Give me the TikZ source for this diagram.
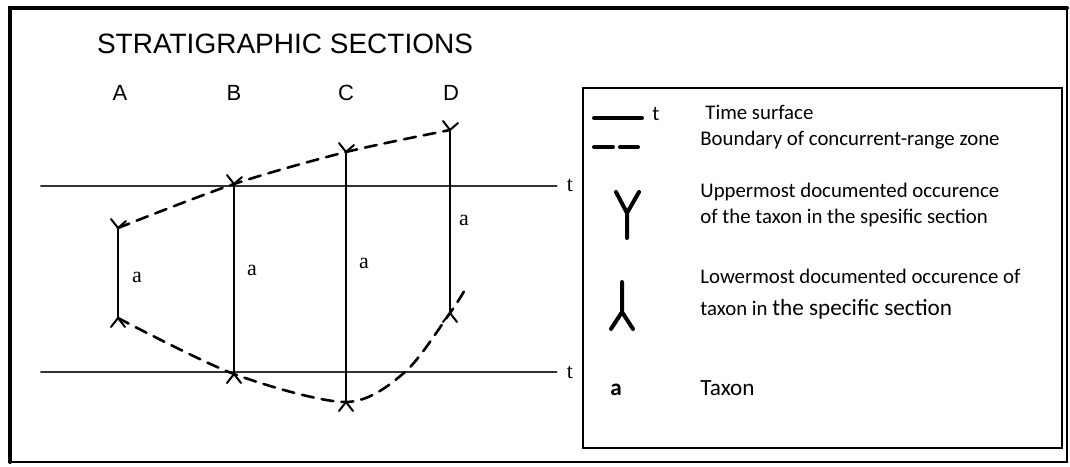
\documentclass[tikz,border=0pt]{standalone}
\usepackage{fontspec}
\setmainfont{Carlito}
\newfontfamily\helv{Liberation Sans}
\newfontfamily\timesf{Liberation Serif}
\usetikzlibrary{positioning}

\tikzset{
  section/.style={line width=1pt},
  timeline/.style={line width=1pt, black!80},
  zone/.style={line width=1.3pt, dash pattern=on 6pt off 4pt},
  taxon/.style={font=\timesf\fontsize{11}{11}\selectfont, inner sep=0pt},
  legtext/.style={anchor=base west, inner sep=0pt, font=\fontsize{10.4}{12}\selectfont},
  legsym/.style={line width=2pt},
  uptick/.pic={\draw[line width=1pt] (-7,-9) -- (0,0) -- (8,-7);},
  downtick/.pic={\draw[line width=1pt] (-7,9) -- (0,0) -- (7,9);}
}

\begin{document}
\begin{tikzpicture}[x=0.5pt, y=-0.5pt, line cap=round]
  \useasboundingbox (0,0) rectangle (1070,466);
  % frame
  \draw[line width=2pt] (10,462) -- (10,8) -- (1067,8);
  \draw[line width=1pt] (1067,8) -- (1067,462) -- (10,462);

  % title and section names
  \node[font=\helv\fontsize{14}{14}\selectfont, anchor=base] (title) at (285,53) {STRATIGRAPHIC SECTIONS};
  \foreach \s/\x in {A/120, B/234, C/346, D/451}
    \node[font=\helv\fontsize{11}{11}\selectfont, anchor=base] (lbl\s) at (\x,100) {\s};

  % time surfaces
  \coordinate (t1w) at (41,186);
  \coordinate (t2w) at (41,372);
  \node[taxon] (t1) at (570,185) {t};
  \node[taxon] (t2) at (570,372) {t};
  \draw[timeline] (t1w) -- ([xshift=-5pt]t1.west |- t1w);
  \draw[timeline] (t2w) -- ([xshift=-5pt]t2.west |- t2w);

  % sections
  \coordinate (Atop) at (118,228); \coordinate (Abot) at (118,318);
  \coordinate (Btop) at (234,184); \coordinate (Bbot) at (234,374);
  \coordinate (Ctop) at (346,152); \coordinate (Cbot) at (346,402);
  \coordinate (Dtop) at (450,130); \coordinate (Dbot) at (450,313);
  \foreach \s in {A,B,C,D} {
    \draw[section] (\s top) -- (\s bot);
    \pic at (\s top) {uptick};
    \pic at (\s bot) {downtick};
  }
  \node[taxon] (aA) at (137,277) {a};
  \node[taxon] (aB) at (252,270) {a};
  \node[taxon] (aC) at (364,263) {a};
  \node[taxon] (aD) at (464,220) {a};

  % concurrent-range zone
  \coordinate (Dend) at (466,288);
  \draw[zone] plot[smooth] coordinates {(Atop) (Btop) (Ctop) (Dtop)};
  \draw[zone] plot[smooth] coordinates {(Abot) (Bbot) (Cbot) (405,372) (Dbot) (Dend)};

  % legend
  \draw[line width=0.6pt] (583,88) rectangle (1062,448);
  \draw[legsym] (594,118) -- (642,118);
  \node[legtext] (lt) at (652,120) {t};
  \draw[legsym] (594,147) -- (613,147) (620,147) -- (638,147);
  \draw[legsym] (627,238) -- (627,213) -- (616,192) (627,213) -- (639,192);
  \draw[legsym] (622,282) -- (622,312) -- (611,329) (622,312) -- (633,329);
  \node[legtext, font=\bfseries\fontsize{11.6}{12}\selectfont] (la) at (610,395) {a};

  \node[legtext] (l1) at (705,119) {Time surface};
  \node[legtext] (l2) at (700,145) {Boundary of concurrent-range zone};
  \node[legtext] (l3) at (700,197) {Uppermost documented occurence};
  \node[legtext] (l4) at (700,223) {of the taxon in the spesific section};
  \node[legtext] (l5) at (700,283) {Lowermost documented occurence of};
  \node[legtext] (l6) at (700,315) {taxon in {\fontsize{11.6}{12}\selectfont the specific section}};
  \node[legtext, font=\fontsize{11.6}{12}\selectfont] (l7) at (700,395) {Taxon};
\end{tikzpicture}
\end{document}
